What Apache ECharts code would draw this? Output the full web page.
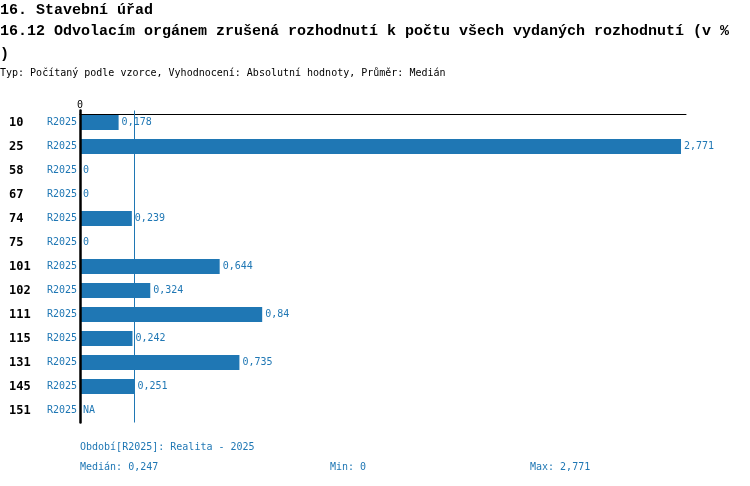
<!DOCTYPE html>
<html>
<head>
<meta charset="utf-8">
<script src="https://cdn.jsdelivr.net/npm/echarts@6/dist/echarts.min.js"></script>
<style>
  html, body { margin: 0; padding: 0; background: #fff; }
  #chart { width: 750px; height: 486px; }
</style>
</head>
<body>
<div id="chart"></div>
<script>
// urady a hodnoty ukazatele (null = NA)
var urady = ['10', '25', '58', '67', '74', '75', '101', '102', '111', '115', '131', '145', '151'];
var obdobi = 'R2025';
var hodnoty = [0.178, 2.771, 0, 0, 0.239, 0, 0.644, 0.324, 0.84, 0.242, 0.735, 0.251, null];
var median = 0.247;
var minHodnota = 0;
var maxHodnota = 2.771;

var modra = '#1f77b4';
var pismo = 'DejaVu Sans Mono';
var pismoNadpis = 'Liberation Mono';

function cislo(v) {
    return String(v).replace('.', ',');
}

var chart = echarts.init(document.getElementById('chart'));

var data = [];
for (var i = 0; i < hodnoty.length; i++) {
    if (hodnoty[i] === null) {
        data.push({ value: 0, label: { formatter: 'NA' } });
    } else {
        data.push(hodnoty[i]);
    }
}

chart.setOption({
    animation: false,
    title: [
        {
            text: '16. Stavební úřad',
            left: 0, top: 1, padding: 0,
            textStyle: { fontFamily: pismoNadpis, fontSize: 15, fontWeight: 'bold', color: '#000', lineHeight: 18 }
        },
        {
            text: '16.12 Odvolacím orgánem zrušená rozhodnutí k počtu všech vydaných rozhodnutí (v %\n)',
            left: 0, top: 20, padding: 0,
            textStyle: { fontFamily: pismoNadpis, fontSize: 15, fontWeight: 'bold', color: '#000', lineHeight: 23 }
        },
        {
            text: 'Typ: Počítaný podle vzorce, Vyhodnocení: Absolutní hodnoty, Průměr: Medián',
            left: 0, top: 68, padding: 0,
            textStyle: { fontFamily: pismo, fontSize: 10, fontWeight: 'normal', color: '#000' }
        },
        {
            text: 'Období[' + obdobi + ']: Realita - 2025',
            left: 80, top: 442, padding: 0,
            textStyle: { fontFamily: pismo, fontSize: 10, fontWeight: 'normal', color: modra }
        },
        {
            text: 'Medián: ' + cislo(median),
            left: 80, top: 462, padding: 0,
            textStyle: { fontFamily: pismo, fontSize: 10, fontWeight: 'normal', color: modra }
        },
        {
            text: 'Min: ' + cislo(minHodnota),
            left: 330, top: 462, padding: 0,
            textStyle: { fontFamily: pismo, fontSize: 10, fontWeight: 'normal', color: modra }
        },
        {
            text: 'Max: ' + cislo(maxHodnota),
            left: 530, top: 462, padding: 0,
            textStyle: { fontFamily: pismo, fontSize: 10, fontWeight: 'normal', color: modra }
        }
    ],
    grid: {
        left: 80,
        right: 64,
        top: 110.5,
        height: 312,
        containLabel: false
    },
    xAxis: {
        type: 'value',
        position: 'top',
        offset: -3.5,
        min: 0,
        max: 2.794,
        axisLine: { show: true, lineStyle: { color: '#000', width: 1 } },
        axisTick: { show: false },
        splitLine: { show: false },
        axisLabel: {
            margin: 4,
            fontFamily: pismo,
            fontSize: 10,
            color: '#000',
            formatter: function (v) { return v === 0 ? '0' : ''; }
        }
    },
    yAxis: {
        type: 'category',
        inverse: true,
        data: urady,
        z: 5,
        axisLine: { show: true, lineStyle: { color: '#000', width: 2.5 } },
        axisTick: { show: false },
        axisLabel: {
            margin: 3,
            formatter: function (v) { return '{a|' + v + '}{b|' + obdobi + '}'; },
            rich: {
                a: { fontFamily: pismo, fontSize: 12, fontWeight: 'bold', color: '#000', width: 36, align: 'left' },
                b: { fontFamily: pismo, fontSize: 10, color: modra, width: 32, align: 'right' }
            }
        }
    },
    series: [
        {
            type: 'bar',
            data: data,
            barWidth: 15,
            itemStyle: { color: modra },
            label: {
                show: true,
                position: 'right',
                distance: 3,
                fontFamily: pismo,
                fontSize: 10,
                color: modra,
                formatter: function (p) { return cislo(p.value); }
            },
            markLine: {
                silent: true,
                symbol: 'none',
                label: { show: false },
                lineStyle: { color: modra, width: 1, type: 'solid', opacity: 1 },
                emphasis: { disabled: true },
                data: [{ xAxis: median }]
            }
        }
    ]
});
</script>
</body>
</html>
